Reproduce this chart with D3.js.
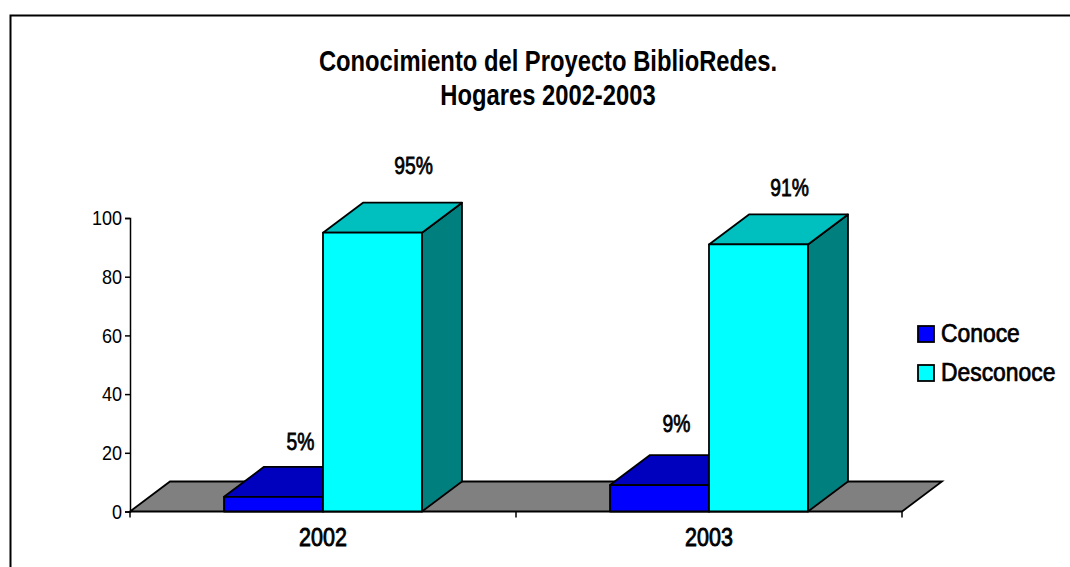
<!DOCTYPE html>
<html lang="es">
<head>
<meta charset="utf-8">
<title>Conocimiento del Proyecto BiblioRedes</title>
<script src="https://d3js.org/d3.v7.min.js"></script>
<style>
    html, body { margin: 0; padding: 0; background: #fff; }
    svg { display: block; }
    text { font-family: "Liberation Sans", Arial, sans-serif; fill: #000; }
</style>
</head>
<body>
<div id="chart"></div>
<script>
// Data
var years = ["2002", "2003"];
var seriesNames = ["Conoce", "Desconoce"];
var conoce = [5, 9];
var desconoce = [95, 91];
var yTicks = [0, 20, 40, 60, 80, 100];
var titleLines = ["Conocimiento del Proyecto BiblioRedes.", "Hogares 2002-2003"];

var width = 1070, height = 567;
var depthX = 40, depthY = 30;

var x = d3.scaleBand().domain(years).range([130, 902]);
var inner = d3.scaleBand().domain(seriesNames).range([0, x.bandwidth()]).paddingOuter(0.95).paddingInner(0);
var y = d3.scaleLinear().domain([0, 100]).range([511.5, 218]);

var svg = d3.select("#chart").append("svg")
    .attr("width", width)
    .attr("height", height);

// No narrow font is installed, so squeeze the text sideways around its own x
function narrow(sel, factor) {
    sel.attr("transform", function () {
        var tx = +this.getAttribute("x") || 0;
        return `translate(${tx * (1 - factor)},0) scale(${factor},1)`;
    });
}

// a medium weight: regular glyphs with a thin outline
function medium(sel, w) {
    sel.attr("stroke", "#000").attr("stroke-width", w);
}

// outer frame, open on the right
svg.append("path")
    .attr("d", "M10.5,567V15.5H1070")
    .attr("fill", "none")
    .attr("stroke", "#000")
    .attr("stroke-width", 2);

// title
svg.append("g").selectAll("text")
    .data(titleLines)
    .enter().append("text")
    .attr("x", 548)
    .attr("y", (d, i) => 71 + i * 34)
    .attr("text-anchor", "middle")
    .attr("font-size", 29)
    .attr("font-weight", "bold")
    .text(d => d)
    .call(narrow, 0.82);

// floor of the chart
var x0 = x.range()[0], x1 = x.range()[1], y0 = y(0);
svg.append("path")
    .attr("d", `M${x0},${y0}L${x0 + depthX},${y0 - depthY}H${x1 + depthX}L${x1},${y0}Z`)
    .attr("fill", "#808080")
    .attr("stroke", "#000")
    .attr("stroke-width", 1.8);

// one 3d bar: side, top, front
function bar3d(g, bx, bw, v, front, top, side) {
    var t = y(v), b = y(0);
    g.append("path")
        .attr("d", `M${bx + bw},${t}l${depthX},${-depthY}V${b - depthY}L${bx + bw},${b}Z`)
        .attr("fill", side);
    g.append("path")
        .attr("d", `M${bx},${t}l${depthX},${-depthY}h${bw}l${-depthX},${depthY}Z`)
        .attr("fill", top);
    g.append("rect")
        .attr("x", bx).attr("y", t)
        .attr("width", bw).attr("height", b - t)
        .attr("fill", front);
    g.selectAll("path,rect")
        .attr("stroke", "#000")
        .attr("stroke-width", 1.8)
        .attr("stroke-linejoin", "round");
}

var bars = svg.append("g");
years.forEach(function (yr, i) {
    var bw = inner.bandwidth();
    bar3d(bars.append("g"), x(yr) + inner("Conoce"), bw, conoce[i], "#0000ff", "#0000bf", "#00007f");
    bar3d(bars.append("g"), x(yr) + inner("Desconoce"), bw, desconoce[i], "#00ffff", "#00bfbf", "#007f7f");
});

// value labels, placed by hand in the original so each has its own nudge
var labelData = [
    { yr: years[0], s: "Conoce", v: conoce[0], dx: 27, dy: -47 },
    { yr: years[0], s: "Desconoce", v: desconoce[0], dx: 41, dy: -59 },
    { yr: years[1], s: "Conoce", v: conoce[1], dx: 17, dy: -53.5 },
    { yr: years[1], s: "Desconoce", v: desconoce[1], dx: 31, dy: -48.5 }
];
svg.append("g").selectAll("text")
    .data(labelData)
    .enter().append("text")
    .attr("x", d => x(d.yr) + inner(d.s) + inner.bandwidth() / 2 + d.dx)
    .attr("y", d => y(d.v) + d.dy)
    .attr("text-anchor", "middle")
    .attr("font-size", 23)
    .text(d => d.v + "%")
    .call(medium, 0.75)
    .call(narrow, 0.84);

// axes
var yAxis = d3.axisLeft(y).tickValues(yTicks).tickSize(5).tickPadding(3);
var gy = svg.append("g").attr("transform", "translate(130,0)").call(yAxis);
gy.selectAll("text").attr("font-size", 21).attr("font-family", null).call(narrow, 0.86);
gy.selectAll("path,line").attr("stroke", "#000").attr("stroke-width", 1.5);

var xAxis = d3.axisBottom(x).tickSize(0).tickPadding(0);
var gx = svg.append("g").attr("transform", `translate(0,${y0})`).call(xAxis);
gx.selectAll("text")
    .attr("font-size", 25)
    .attr("font-family", null)
    .attr("y", 35)
    .attr("dy", 0)
    .call(medium, 0.9)
    .call(narrow, 0.86);
gx.select(".domain").remove();

// x ticks sit on the band edges
svg.append("g").selectAll("line")
    .data(x.domain().map(d => x(d)).concat([x1]))
    .enter().append("line")
    .attr("x1", d => d).attr("x2", d => d)
    .attr("y1", y0).attr("y2", y0 + 6)
    .attr("stroke", "#000").attr("stroke-width", 1.5);

// legend
var legendColors = d3.scaleOrdinal().domain(seriesNames).range(["#0000ff", "#00ffff"]);
var legend = svg.append("g").selectAll("g")
    .data(seriesNames)
    .enter().append("g")
    .attr("transform", (d, i) => `translate(918,${326 + i * 39})`);
legend.append("rect")
    .attr("width", 16).attr("height", 16)
    .attr("fill", d => legendColors(d))
    .attr("stroke", "#000").attr("stroke-width", 1.8);
legend.append("text")
    .attr("x", 23).attr("y", 16)
    .attr("font-size", 26)
    .text(d => d)
    .call(medium, 0.75)
    .call(narrow, 0.88);
</script>
</body>
</html>
